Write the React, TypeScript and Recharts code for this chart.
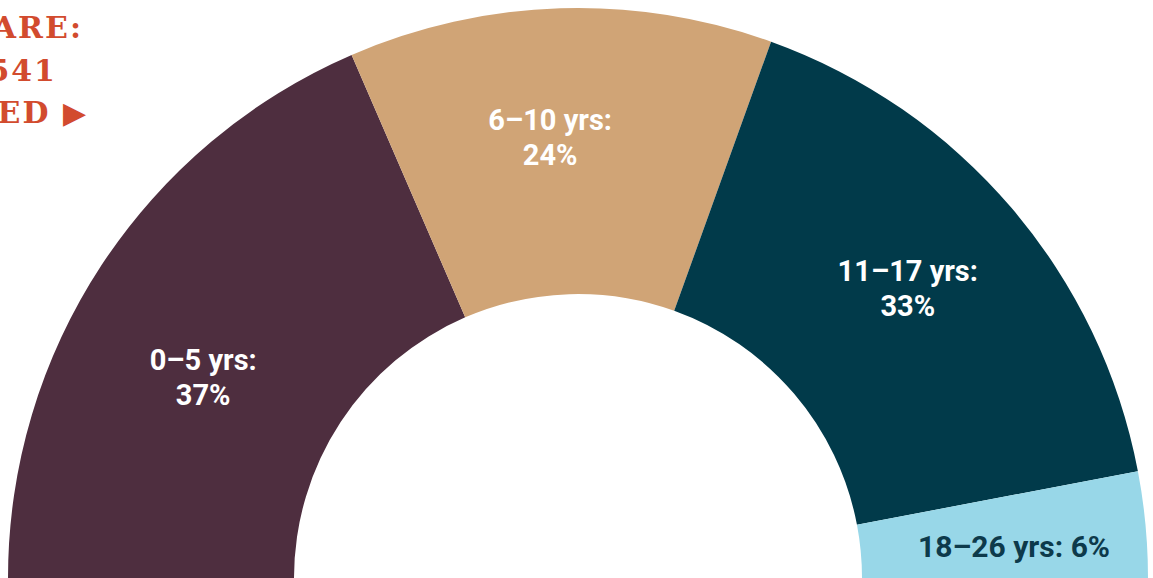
import { Cell, Pie, PieChart } from "recharts";

const AGE_GROUPS = ["0–5 yrs", "6–10 yrs", "11–17 yrs", "18–26 yrs"];
const SHARES = [37, 24, 33, 6];
const COLORS = ["#4e2e3f", "#d0a476", "#013a4a", "#98d7e8"];
const HEADER_LINES = ["ARE:", "541", "ED ▶"];

const data = AGE_GROUPS.map((name, i) => ({ name, value: SHARES[i] }));

const RADIAN = Math.PI / 180;

// label nudges, picked by eye
const LABEL_R = [452, 440, 435, 440];
const LABEL_DX = [3, -14, -1, -2];
const LABEL_DY = [47, -1, -7, 10];

function renderLabel(props: any) {
  const { cx, cy, midAngle, index, name, value } = props;
  const r = LABEL_R[index];
  const x = cx + r * Math.cos(-midAngle * RADIAN) + LABEL_DX[index];
  const y = cy + r * Math.sin(-midAngle * RADIAN) + LABEL_DY[index];
  if (index === 3) {
    return (
      <text
        x={x}
        y={y}
        textAnchor="middle"
        dominantBaseline="central"
        fill="#0d3a4b"
        fontFamily="Roboto"
        fontWeight={700}
        fontSize={30}
      >
        {`${name}: ${value}%`}
      </text>
    );
  }
  return (
    <text x={x} y={y} textAnchor="middle" fill="#ffffff" fontFamily="Roboto" fontWeight={700} fontSize={29}>
      <tspan x={x} dy={-7}>{`${name}:`}</tspan>
      <tspan x={x} dy={35}>{`${value}%`}</tspan>
    </text>
  );
}

export default function App() {
  return (
    <div style={{ position: "fixed", top: 0, left: 0, width: 1153, height: 578, background: "#fff" }}>
      <PieChart width={1153} height={578} margin={{ top: 0, right: 0, bottom: 0, left: 0 }}>
        <Pie
          data={data}
          dataKey="value"
          nameKey="name"
          cx={578}
          cy={578}
          startAngle={180}
          endAngle={0}
          innerRadius={284}
          outerRadius={570}
          stroke="none"
          labelLine={false}
          label={renderLabel}
          isAnimationActive={false}
        >
          {data.map((d, i) => (
            <Cell key={d.name} fill={COLORS[i]} />
          ))}
        </Pie>
        {HEADER_LINES.map((t, i) => (
          <text
            key={t}
            x={[83, 57, 88][i]}
            y={38 + i * 42.5}
            textAnchor="end"
            fill="#d24b2e"
            fontFamily="DejaVu Serif"
            fontWeight={700}
            fontSize={30}
            letterSpacing={2}
          >
            {t}
          </text>
        ))}
      </PieChart>
    </div>
  );
}
